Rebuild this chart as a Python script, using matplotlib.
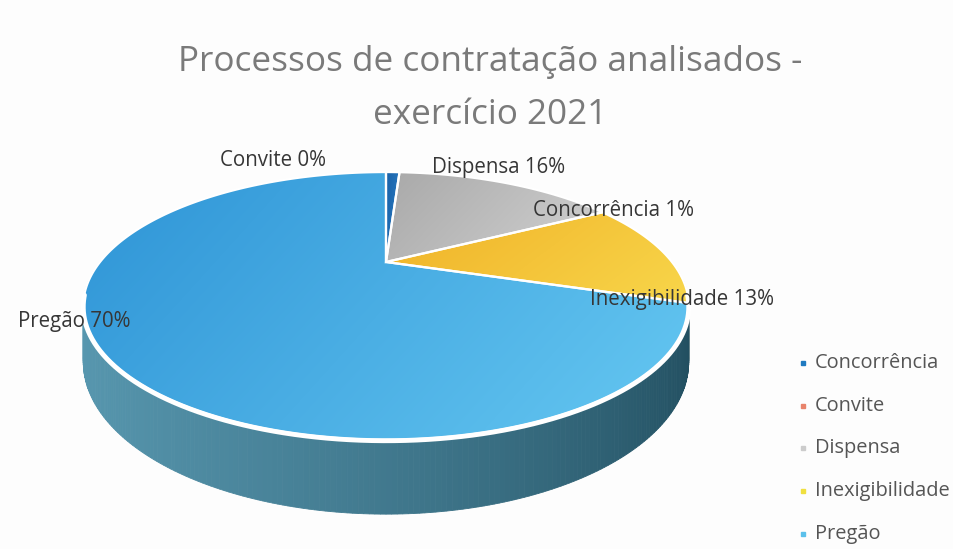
import numpy as np
import matplotlib.pyplot as plt
from matplotlib.patches import Polygon
from matplotlib.colors import to_rgb

plt.rcParams['font.family'] = ['Open Sans', 'DejaVu Sans']

# data
categories = ['Concorrência', 'Convite', 'Dispensa', 'Inexigibilidade', 'Pregão']
values = [1, 0, 16, 13, 70]
top_colors = [('#1a62a8', '#2a7cc4'), ('#e07050', '#e88a6a'), ('#a9a9a9', '#d2d2d2'),
              ('#f0b228', '#f8d64a'), ('#2e94d6', '#66c8f2')]
side_colors = [('#164f80', '#164f80'), ('#b05030', '#b05030'), ('#8a8a8a', '#8a8a8a'),
               ('#c6961c', '#b8881a'), ('#5898b0', '#1f4b5c')]
legend_colors = ['#1f7ac0', '#e8836b', '#cccccc', '#f0e040', '#5bc0eb']
label_pos = [(533, 211), (220, 160), (432, 167), (590, 300), (18, 322)]

fig = plt.figure(figsize=(9.54, 5.49), dpi=100)
fig.patch.set_facecolor('#fdfdfd')
ax = fig.add_axes([0, 0, 1, 1])

# perspective mapping of the pie disc
cx, cy = 386, 262
A, D, G, H = 286, 33.5, -0.328, 50


def proj(phi, drop=0.0):
    u = np.sin(phi)
    v = -np.cos(phi)
    den = 1 + G * v
    return cx + A * u / den, (D * v + cy) / den + drop / den


def grad_fill(xy, c0, c1, zorder, diag=(1.0, 0.4)):
    patch = Polygon(xy, closed=True, facecolor='none', edgecolor='none')
    ax.add_patch(patch)
    x0, x1 = xy[:, 0].min(), xy[:, 0].max()
    y0, y1 = xy[:, 1].min(), xy[:, 1].max()
    gx, gy = np.meshgrid(np.linspace(0, 1, 120), np.linspace(0, 1, 120))
    t = gx * diag[0] + gy * diag[1]
    t = (t - t.min()) / (t.max() - t.min() + 1e-9)
    c0, c1 = np.array(to_rgb(c0)), np.array(to_rgb(c1))
    rgb = c0 + (c1 - c0) * t[..., None]
    im = ax.imshow(rgb, extent=(x0, x1, y1, y0), origin='upper', zorder=zorder,
                   interpolation='bilinear', aspect='auto')
    im.set_clip_path(patch)


fracs = np.array(values) / sum(values)
ends = np.cumsum(fracs) * 2 * np.pi
starts = ends - fracs * 2 * np.pi

# side wall, strips painted back to front
phis = np.linspace(np.pi / 2, 3 * np.pi / 2, 241)
strips = []
for p0, p1 in zip(phis[:-1], phis[1:]):
    pm = (p0 + p1) / 2
    k = int(np.searchsorted(ends, pm % (2 * np.pi)))
    k = min(k, len(values) - 1)
    t = (np.sin(pm) * -1 + 1) / 2
    c0, c1 = np.array(to_rgb(side_colors[k][0])), np.array(to_rgb(side_colors[k][1]))
    col = c0 + (c1 - c0) * (1 - t) ** 1.3
    xa, ya = proj(p0)
    xb, yb = proj(p1)
    xc, yc = proj(p1, H)
    xd, yd = proj(p0, H)
    strips.append((-np.cos(pm), [(xa, ya), (xb, yb), (xc, yc), (xd, yd)], col))
for _, quad, col in sorted(strips, key=lambda s: s[0]):
    ax.add_patch(Polygon(quad, closed=True, facecolor=col, edgecolor=col, lw=0.6, zorder=2))

# top face slices
for i, (s, e) in enumerate(zip(starts, ends)):
    if e - s <= 0:
        continue
    ph = np.linspace(s, e, max(int((e - s) * 80), 4))
    px, py = proj(ph)
    xy = np.column_stack([np.r_[cx, px], np.r_[cy, py]])
    grad_fill(xy, top_colors[i][0], top_colors[i][1], zorder=3)
    ax.add_patch(Polygon(xy, closed=True, facecolor='none', edgecolor='white', lw=1.6, zorder=4))

# white front rim
ph = np.linspace(np.pi / 2 + 0.25, 3 * np.pi / 2 - 0.25, 200)
rx, ry = proj(ph)
ax.plot(rx, ry + 1, color='white', lw=3.5, zorder=5, solid_capstyle='round')

# slice labels
for cat, val, (lx, ly) in zip(categories, values, label_pos):
    ax.text(lx, ly, f'{cat} {val}%', fontsize=14.8, color='#363636', ha='left', va='center', zorder=6)

# title
ax.text(490, 62, 'Processos de contratação analisados -', fontsize=25.3, color='#7a7a7a',
        ha='center', va='center', fontweight='medium')
ax.text(490, 115, 'exercício 2021', fontsize=25.3, color='#7a7a7a', ha='center', va='center',
        fontweight='medium')

# legend
for j, (cat, col) in enumerate(zip(categories, legend_colors)):
    ly = 363 + j * 42.7
    ax.plot(803, ly, marker='s', ms=2.5, color=col, ls='none')
    ax.text(815, ly, cat, fontsize=14.4, color='#555555', ha='left', va='center')

ax.set_xlim(0, 954)
ax.set_ylim(549, 0)
ax.axis('off')
fig.savefig('out.png', dpi=100, facecolor=fig.get_facecolor())
